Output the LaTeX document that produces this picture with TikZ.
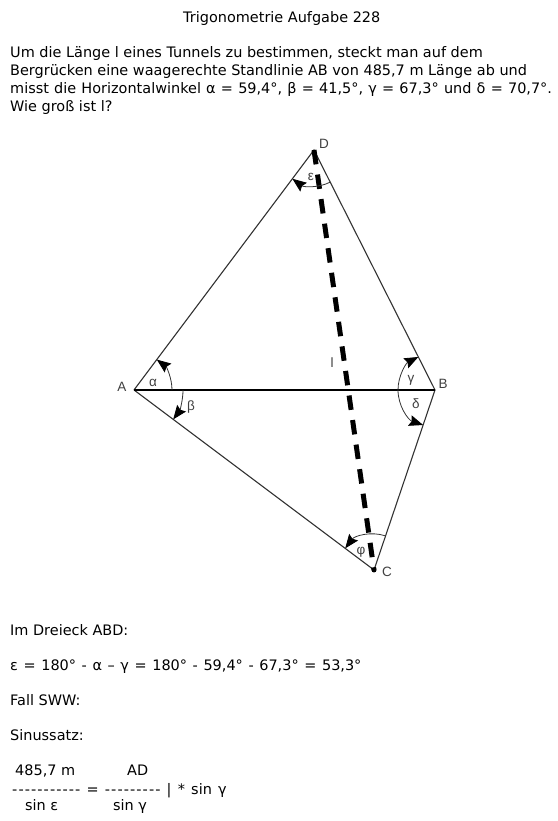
\documentclass[tikz,border=0pt]{standalone}
\usepackage{fontspec}
\setmainfont{DejaVu Sans}[Ligatures=TeXOff]
\newfontfamily\labfont{Liberation Sans}
\newcommand{\dashrow}[1]{{\addfontfeatures{LetterSpace=7.5}#1}}
\usetikzlibrary{arrows.meta}
\tikzset{
  txt/.style={anchor=base west, inner sep=0pt, font=\fontsize{14.45}{18}\selectfont},
  lab/.style={inner sep=0pt, font=\labfont\fontsize{13.5}{15}\selectfont, text=black!75},
  side/.style={line width=1.1pt, black!80},
  anglearc/.style={line width=0.8pt, black!80, -{Stealth[length=14pt,width=11pt,inset=2pt,black]}},
}
\begin{document}
\begin{tikzpicture}[x=1pt,y=1pt]
\useasboundingbox (0,0) rectangle (557,821);
% Eckpunkte
\coordinate (A) at (134,431);
\coordinate (B) at (435,431);
\coordinate (C) at (374,251);
\coordinate (D) at (314,671);
% Text oben
\node[txt] (title) at (183,798) {Trigonometrie Aufgabe 228};
\node[txt, align=left, anchor=north west] (task) at (10,775) {Um die Länge l eines Tunnels zu bestimmen, steckt man auf dem\\
Bergrücken eine waagerechte Standlinie AB von 485,7 m Länge ab und\\
{\spaceskip=5.2pt misst die Horizontalwinkel α = 59,4°, β = 41,5°, γ = 67,3° und δ = 70,7°.}\\
Wie groß ist l?};
% Viereck
\draw[side] (A) -- (D) -- (B) -- (C) -- (A);
\draw[line width=2.7pt, black] (A) -- (B);
\draw[line width=5pt, black, dash pattern=on 14.5pt off 10.3pt] (D) -- (C);
\fill (C) circle (2.5pt);
% Winkel
\draw[anglearc] ([shift=(0:38)]A) arc (0:53.1:38);
\draw[anglearc] ([shift=(0:49)]A) arc (0:-36.9:49);
\draw[anglearc] ([shift=(180:37)]B) arc (180:116.8:37);
\draw[anglearc] ([shift=(180:37)]B) arc (180:251.3:37);
\draw[anglearc] ([shift=(71.3:36)]C) arc (71.3:143.1:36);
\draw[anglearc] ([shift=(-63.2:36)]D) arc (-63.2:-126.9:36);
% Beschriftung
\node[lab] (labA) at (122,434) {A};
\node[lab] (labB) at (443,437) {B};
\node[lab] (labC) at (387,249) {C};
\node[lab] (labD) at (324,677) {D};
\node[lab] (laba) at (153,438) {α};
\node[lab] (labb) at (191,414) {β};
\node[lab] (labg) at (411,441) {γ};
\node[lab] (labd) at (416,417) {δ};
\node[lab] (labe) at (311,644) {ε};
\node[lab] (labf) at (361,269) {φ};
\node[lab] (labl) at (332,458) {l};
% Rechnung
\node[txt] (dreieck) at (10,185) {Im Dreieck ABD:};
\node[txt] (eps) at (10,150) {\spaceskip=5.6pt ε = 180° - α – γ = 180° - 59,4° - 67,3° = 53,3°};
\node[txt] (fall) at (10,115) {Fall SWW:};
\node[txt] (satz) at (10,80) {Sinussatz:};
\node[txt] (zl) at (15,45) {485,7 m};
\node[txt] (zr) at (127,45) {AD};
\node[txt] (bruch) at (12,27) {\spaceskip=6.2pt \dashrow{-----------} = \dashrow{---------} | * sin γ};
\node[txt] (nl) at (25,10) {sin ε};
\node[txt] (nr) at (113,10) {sin γ};
\end{tikzpicture}
\end{document}
